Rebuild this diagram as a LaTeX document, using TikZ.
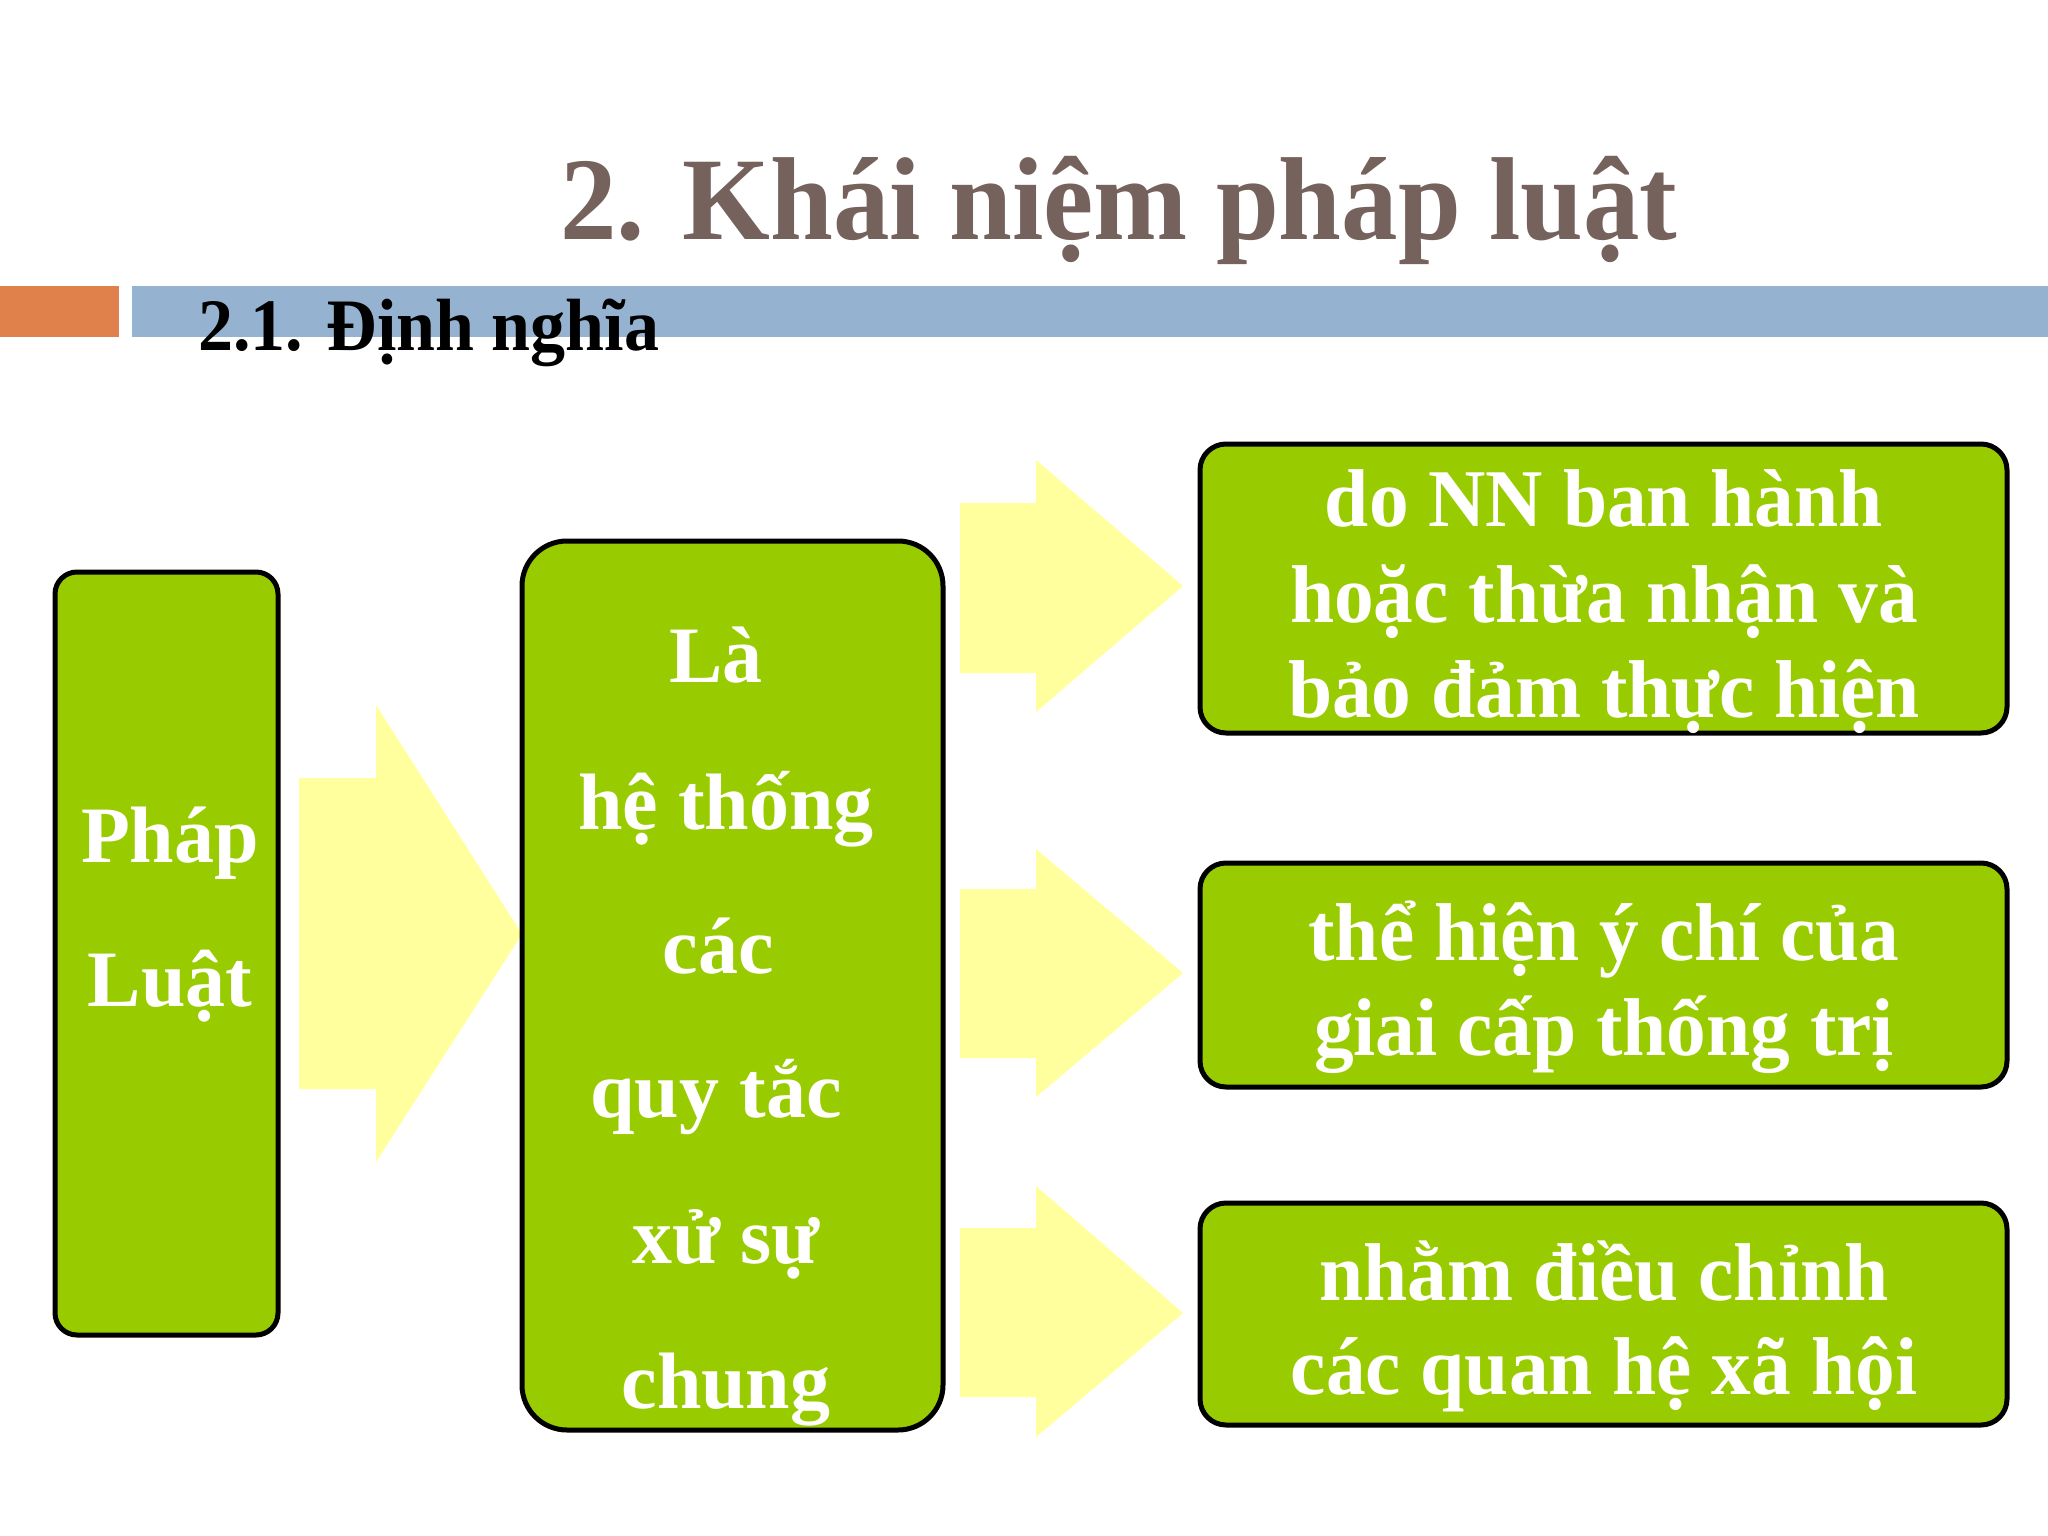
\documentclass[tikz,border=0pt]{standalone}
\usepackage{fontspec}
\setmainfont{Liberation Serif}
\newfontfamily\titlefont{Liberation Serif}[FakeStretch=0.957]
\newfontfamily\subfont{Liberation Serif}[FakeStretch=0.946]
\newfontfamily\condfont{Liberation Serif}[FakeStretch=0.968]
\definecolor{titlebrown}{HTML}{76625C}
\definecolor{barblue}{HTML}{95B3D0}
\definecolor{barorange}{HTML}{E0804A}
\definecolor{boxgreen}{HTML}{99CC00}
\definecolor{arrowyellow}{HTML}{FFFF9E}
\tikzset{
  greenbox/.style={draw=black, line width=5pt, fill=boxgreen},
  whitetxt/.style={anchor=base, text=white, inner sep=0pt, font=\bfseries\fontsize{80}{80}\selectfont},
  condtxt/.style={anchor=base, text=white, inner sep=0pt, font=\condfont\bfseries\fontsize{82}{82}\selectfont},
  blockarrow/.style={fill=arrowyellow, draw=none}
}
\begin{document}
\begin{tikzpicture}[x=1pt,y=-1pt]
\useasboundingbox[fill=white] (0,0) rectangle (2048,1536);
% bars
\fill[barorange] (0,286) rectangle (119,337);
\fill[barblue] (132,286) rectangle (2048,337);
% title
\node[anchor=base, text=titlebrown, inner sep=0pt, font=\titlefont\bfseries\fontsize{118}{118}\selectfont] (title) at (1119,239) {2. Khái niệm pháp luật};
\node[anchor=base west, text=black, inner sep=0pt, font=\subfont\bfseries\fontsize{74}{74}\selectfont] (sub) at (198,350) {2.1. Định nghĩa};
% block arrows
\fill[blockarrow] (299,778) -- (376,778) -- (376,705) -- (522,934) -- (376,1162) -- (376,1089) -- (299,1089) -- cycle;
\fill[blockarrow] (960,503) -- (1036,503) -- (1036,460) -- (1183,586) -- (1036,712) -- (1036,673) -- (960,673) -- cycle;
\fill[blockarrow] (960,889) -- (1036,889) -- (1036,849) -- (1183,973) -- (1036,1097) -- (1036,1058) -- (960,1058) -- cycle;
\fill[blockarrow] (960,1228) -- (1036,1228) -- (1036,1186) -- (1183,1313) -- (1036,1437) -- (1036,1397) -- (960,1397) -- cycle;
% boxes
\draw[greenbox, rounded corners=22pt] (55,572) rectangle (278,1335);
\node[inner sep=0pt] (left) at (166.5,953.5) {};
\draw[greenbox, rounded corners=45pt] (522,541) rectangle (943,1430);
\node[inner sep=0pt] (mid) at (732.5,985.5) {};
\draw[greenbox, rounded corners=26pt] (1200,444) rectangle (2007,733);
\draw[greenbox, rounded corners=26pt] (1200,863) rectangle (2007,1087);
\draw[greenbox, rounded corners=26pt] (1200,1203) rectangle (2007,1425);
% left text
\node[whitetxt] (l1) at (170,862) {Pháp};
\node[whitetxt] (l2) at (170,1006) {Luật};
% middle text
\node[whitetxt] (m1) at (716,682) {Là};
\node[whitetxt] (m2) at (726,829) {hệ thống};
\node[whitetxt] (m3) at (718,973) {các};
\node[whitetxt] (m4) at (716,1117) {quy tắc};
\node[whitetxt] (m5) at (726,1263) {xử sự};
\node[whitetxt] (m6) at (726,1408) {chung};
% right text
\node[condtxt] (r11) at (1604,526) {do NN ban hành};
\node[condtxt] (r12) at (1604,622) {hoặc thừa nhận và};
\node[condtxt] (r13) at (1604,717) {bảo đảm thực hiện};
\node[condtxt] (r21) at (1604,960) {thể hiện ý chí của};
\node[condtxt] (r22) at (1604,1055) {giai cấp thống trị};
\node[condtxt] (r31) at (1604,1300) {nhằm điều chỉnh};
\node[condtxt] (r32) at (1604,1394) {các quan hệ xã hội};
\end{tikzpicture}
\end{document}
